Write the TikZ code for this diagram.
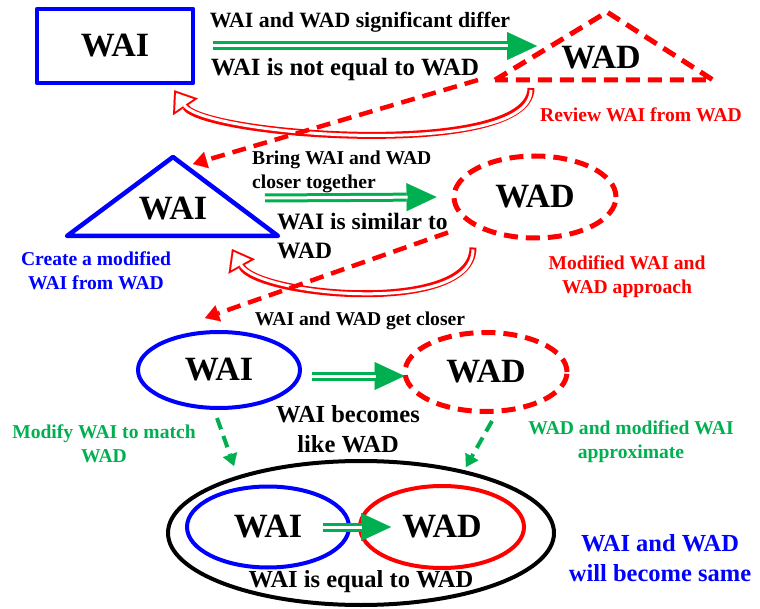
\documentclass[tikz,border=0pt]{standalone}
\usepackage{fontspec}
\setmainfont{Liberation Serif}
\usetikzlibrary{positioning, calc, shapes, arrows.meta}
\definecolor{wblue}{RGB}{0,0,255}
\definecolor{wred}{RGB}{255,0,0}
\definecolor{wgreen}{RGB}{0,176,80}

\begin{document}
\begin{tikzpicture}[x=1pt, y=-1pt]
	\tikzstyle{term} = [font={\bfseries\fontsize{34}{40}\selectfont}, inner sep=0pt];
	\tikzstyle{info} = [font={\bfseries\fontsize{19.6}{24}\selectfont}, align=center, inner sep=0pt];
	\tikzstyle{note} = [font={\bfseries\fontsize{24.5}{29.5}\selectfont}, align=center, inner sep=0pt];
	\tikzstyle{wai} = [draw=wblue, line width=4.5pt, line join=round];
	\tikzstyle{wad} = [draw=wred, line width=5pt, dash pattern=on 14pt off 8pt];
	\tikzstyle{oval} = [ellipse, minimum width=162pt, minimum height=80pt];
	\tikzstyle{towards} = [draw=wgreen, line width=9pt, -{Triangle[length=30pt, width=28pt, line width=0.1pt]},
		postaction={draw=white, line width=3pt, arrows=-, shorten >=29pt}];
	\tikzstyle{review} = [draw=wred, line width=7pt, -{Triangle[length=20pt, width=30pt, line width=0.1pt]},
		postaction={draw=white, line width=3pt, shorten <=2pt, shorten >=3.3pt, -{Triangle[length=14.7pt, width=22pt, line width=0.1pt]}}];
	\tikzstyle{pass} = [draw=wred, line width=4.5pt, dash pattern=on 14pt off 8pt, -{Triangle[length=14pt, width=17pt, line width=0.1pt]}];
	\tikzstyle{match} = [draw=wgreen, line width=4pt, dash pattern=on 12pt off 7pt, -{Triangle[length=12pt, width=15pt, line width=0.1pt]}];

	\useasboundingbox (0,0) rectangle (760,609);

	% WAI and WAD differ
	\node[term, wai, rectangle, minimum width=156pt, minimum height=74pt] (wai1) at (115,46) {WAI};
	\coordinate (t1l) at (495,80);
	\coordinate (t1t) at (607,12);
	\coordinate (t1r) at (713,80);
	\draw[wad] (t1l) -- (t1t) -- (t1r) -- cycle;
	\node[term] (wad1) at (601,58) {WAD};
	\draw[towards] ($(wai1.east)+(18,0)$) -- ($(wai1.east -| t1l)+(42,0)$);
	\node[info, font={\bfseries\fontsize{21.8}{26}\selectfont}] at (360,22) {WAI and WAD significant differ};
	\node[note, font={\bfseries\fontsize{24.8}{30}\selectfont}] at (345,70) {WAI is not equal to WAD};
	\draw[review] ($(t1l)+(36,8)$) .. controls (531,160) and (205,136) .. ($(wai1.south east)+(-21,5)$);
	\node[info, text=wred] at (641,115) {Review WAI from WAD};

	% modified WAI
	\coordinate (t2l) at (67,236);
	\coordinate (t2t) at (173,157);
	\coordinate (t2r) at (278,236);
	\draw[pass] ($(t1l)+(-17,0)$) -- ($(t2t)+(20,7)$);
	\draw[wai] (t2l) -- (t2t) -- (t2r) -- cycle;
	\node[term] (wai2) at (173,209) {WAI};
	\node[term, wad, oval, minimum height=82pt] (wad2) at (535,197) {WAD};
	\draw[towards] ($(t2r)+(-13,-38)$) -- ($(wad2.west)+(-15,0)$);
	\node[info, align=left, anchor=west] at (252,172) {Bring WAI and WAD\\closer together};
	\node[note, align=left, anchor=west, font={\bfseries\fontsize{23.5}{29}\selectfont}] at (277,236) {WAI is similar to\\WAD};
	\node[info, text=wblue] at (96,271) {Create a modified\\WAI from WAD};
	\node[info, text=wred] at (627,277) {Modified WAI and\\WAD approach};
	\draw[review] ($(wad2.south)+(-62,7)$) .. controls (473,316) and (258,296) .. ($(t2r)+(-46,13)$);

	% WAI and WAD get closer
	\node[term, wai, oval, minimum height=76pt, line width=4pt] (wai3) at (219,370) {WAI};
	\node[term, wad, oval, minimum height=79pt] (wad3) at (486,372) {WAD};
	\draw[pass] ($(wad2.south)+(-87,-8)$) -- ($(wai3.north)+(-14,-12)$);
	\draw[towards] ($(wai3.east)+(10,6)$) -- ($(wad3.west)+(2,4)$);
	\node[info] at (360,321) {WAI and WAD get closer};
	\node[note] at (348,429) {WAI becomes\\like WAD};
	\node[info, text=wgreen] at (104,444) {Modify WAI to match\\WAD};
	\node[info, text=wgreen] at (631,442) {WAD and modified WAI\\approximate};

	% WAI and WAD same
	\node[draw=black, line width=4pt, ellipse, minimum width=386pt, minimum height=144pt] (same) at (361,533) {};
	\node[term, draw=wblue, line width=4pt, oval, minimum height=81pt] (wai4) at (268,527) {WAI};
	\node[term, draw=wred, line width=4pt, oval, minimum width=164pt, minimum height=82pt] (wad4) at (442,527) {WAD};
	\draw[match] ($(wai3.south)+(-2,8)$) -- ($(same.north)+(-127,7)$);
	\draw[match] ($(wad3.south)+(6,7)$) -- ($(same.north)+(105,8)$);
	\draw[towards] ($(wai4.east)+(-28,0)$) -- ($(wad4.west)+(33,0)$);
	\node[note] at (361,582) {WAI is equal to WAD};
	\node[note, text=wblue] at (660,558) {WAI and WAD\\will become same};

\end{tikzpicture}
\end{document}
